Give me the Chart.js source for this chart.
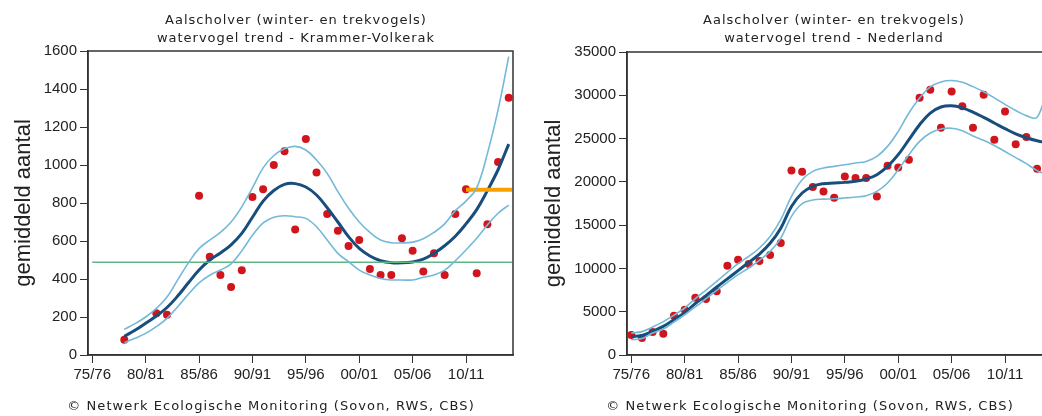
<!DOCTYPE html>
<html>
<head>
<meta charset="utf-8">
<script src="https://cdn.jsdelivr.net/npm/chart.js@4.4.1/dist/chart.umd.min.js"></script>
<style>
  html, body { margin: 0; padding: 0; background: #fff; }
  body { width: 1042px; height: 416px; overflow: hidden; position: relative; }
  canvas { position: absolute; top: 0; }
  .title, .foot {
    position: absolute; white-space: nowrap; color: #222;
    font-family: "DejaVu Sans", sans-serif; font-size: 13px; line-height: 18px;
    text-align: center; transform: translateX(-50%);
  }
  .title { top: 11px; letter-spacing: 1px; }
  .foot { top: 397px; letter-spacing: 1.1px; }
</style>
</head>
<body>
<canvas id="chartKV" width="540" height="416" style="left:0px"></canvas>
<canvas id="chartNL" width="540" height="416" style="left:540px"></canvas>
<div class="title" style="left:296px">Aalscholver (winter- en trekvogels)<br>watervogel trend - Krammer-Volkerak</div>
<div class="title" style="left:834px">Aalscholver (winter- en trekvogels)<br>watervogel trend - Nederland</div>
<div class="foot" style="left:271px">© Netwerk Ecologische Monitoring (Sovon, RWS, CBS)</div>
<div class="foot" style="left:810px">© Netwerk Ecologische Monitoring (Sovon, RWS, CBS)</div>
<script>
// x-as: seizoenen
var tickYears  = [1975, 1980, 1985, 1990, 1995, 2000, 2005, 2010];
var tickLabels = ['75/76', '80/81', '85/86', '90/91', '95/96', '00/01', '05/06', '10/11'];

// Krammer-Volkerak: tellingen
var countYearsKV = [1978, 1981, 1982, 1985, 1986, 1987, 1988, 1989, 1990, 1991, 1992, 1993, 1994, 1995, 1996,
                    1997, 1998, 1999, 2000, 2001, 2002, 2003, 2004, 2005, 2006, 2007, 2008, 2009, 2010, 2011,
                    2012, 2013, 2014];
var countsKV     = [80, 220, 212, 838, 517, 421, 358, 446, 832, 872, 1000, 1072, 661, 1137, 960,
                    742, 654, 574, 605, 453, 421, 421, 614, 549, 439, 535, 421, 742, 872, 430,
                    688, 1016, 1354];
// Krammer-Volkerak: trend + betrouwbaarheidsband
var trendYearsKV = [1978, 1979, 1980, 1981, 1982, 1983, 1984, 1985, 1986, 1987, 1988, 1989, 1990, 1991, 1992,
                    1993, 1994, 1995, 1996, 1997, 1998, 1999, 2000, 2001, 2002, 2003, 2004, 2005, 2006, 2007,
                    2008, 2009, 2010, 2011, 2012, 2013, 2014];
var trendKV      = [98, 130, 167, 205, 250, 310, 380, 447, 500, 537, 580, 640, 725, 810, 866,
                    898, 902, 884, 842, 775, 700, 623, 561, 521, 496, 486, 485, 490, 505, 535,
                    575, 625, 690, 765, 865, 975, 1110];
var upperKV      = [135, 165, 200, 245, 305, 395, 485, 560, 605, 645, 700, 780, 880, 985, 1050,
                    1085, 1098, 1079, 1026, 956, 860, 772, 700, 645, 605, 591, 590, 594, 612, 645,
                    690, 760, 810, 880, 1060, 1290, 1570];
var lowerKV      = [65, 88, 114, 149, 193, 254, 320, 380, 420, 447, 480, 548, 630, 695, 725,
                    733, 728, 719, 675, 605, 535, 491, 447, 421, 403, 395, 395, 395, 409, 421,
                    447, 496, 553, 614, 684, 746, 789];
// Krammer-Volkerak: referentielijnen
var refYearsKV    = [1975, 2014.3];
var refValueKV    = 488;
var targetYearsKV = [2010, 2014.3];
var targetValueKV = 870;

// Nederland: tellingen
var countYearsNL = [1975, 1976, 1977, 1978, 1979, 1980, 1981, 1982, 1983, 1984, 1985, 1986, 1987, 1988, 1989,
                    1990, 1991, 1992, 1993, 1994, 1995, 1996, 1997, 1998, 1999, 2000, 2001, 2002, 2003, 2004,
                    2005, 2006, 2007, 2008, 2009, 2010, 2011, 2012, 2013];
var countsNL     = [2300, 1960, 2650, 2460, 4540, 5230, 6620, 6470, 7350, 10320, 11010, 10510, 10860, 11550, 12940,
                    21320, 21170, 19400, 18900, 18170, 20630, 20440, 20440, 18320, 21870, 21670, 22560, 29720, 30650, 26260,
                    30450, 28720, 26260, 30070, 24870, 28140, 24330, 25180, 21520];
// Nederland: trend + betrouwbaarheidsband
var trendYearsNL = [1975, 1976, 1977, 1978, 1979, 1980, 1981, 1982, 1983, 1984, 1985, 1986, 1987, 1988, 1989,
                    1990, 1991, 1992, 1993, 1994, 1995, 1996, 1997, 1998, 1999, 2000, 2001, 2002, 2003, 2004,
                    2005, 2006, 2007, 2008, 2009, 2010, 2011, 2012, 2013, 2014];
var trendNL      = [2150, 2250, 2750, 3300, 4100, 4900, 5950, 6850, 7850, 8800, 9750, 10700, 11650, 12900, 14650,
                    17150, 18710, 19480, 19790, 19870, 19940, 20060, 20330, 20830, 21790, 23140, 24870, 26600, 27950, 28650,
                    28800, 28550, 28050, 27450, 26800, 26150, 25550, 25100, 24750, 24500];
var upperNL      = [2540, 2700, 3230, 3850, 4600, 5430, 6500, 7500, 8500, 9550, 10550, 11390, 12360, 13700, 15630,
                    18320, 20250, 21210, 21600, 21790, 21980, 22180, 22360, 22940, 24100, 25830, 27950, 29690, 30960, 31540,
                    31700, 31500, 31000, 30400, 29700, 28950, 28250, 27650, 27450, 31000];
var lowerNL      = [1770, 1900, 2540, 3000, 3800, 4650, 5550, 6500, 7460, 8400, 9280, 10050, 10930, 11970, 13510,
                    16010, 17480, 17900, 18000, 18050, 18140, 18250, 18400, 18900, 19870, 21400, 23140, 24670, 25640, 26100,
                    26200, 25900, 25300, 24800, 24200, 23500, 22800, 22100, 21300, 20800];

var colPoint = 'rgb(208,22,28)';
var colTrend = 'rgb(24,78,124)';
var colBand  = 'rgb(116,185,216)';
var colRef   = 'rgb(96,182,130)';
var colTarget = 'rgb(247,160,0)';
var tickFont = { family: 'Liberation Sans', size: 15 };

function xy(xs, ys) {
    return xs.map(function (x, i) { return { x: x, y: ys[i] }; });
}
function flat(xs, v) {
    return xs.map(function (x) { return { x: x, y: v }; });
}

// kader rond het plotgebied
var boxPlugin = {
    id: 'box',
    beforeDatasetsDraw: function (chart) {
        var a = chart.chartArea, ctx = chart.ctx;
        ctx.save();
        ctx.strokeStyle = '#333';
        ctx.lineWidth = 1.5;
        ctx.strokeRect(a.left, a.top, a.right - a.left, a.bottom - a.top);
        ctx.restore();
    }
};

function lineSet(data, color, width, tension) {
    return { type: 'line', data: data, borderColor: color, borderWidth: width,
             pointRadius: 0, fill: false, tension: tension };
}

function makeChart(id, sets, yMax, yStep, padTop, padRight, yWidth, titlePad) {
    var ctx = document.getElementById(id).getContext('2d');
    return new Chart(ctx, {
        type: 'line',
        data: { datasets: sets },
        options: {
            responsive: false,
            animation: false,
            layout: { padding: { top: padTop, right: padRight, left: 0, bottom: 0 } },
            plugins: { legend: { display: false }, tooltip: { enabled: false } },
            scales: {
                x: {
                    type: 'linear', min: 1974.6, max: 2014.4,
                    afterBuildTicks: function (s) { s.ticks = tickYears.map(function (v) { return { value: v }; }); },
                    afterFit: function (s) { s.height = 61; },
                    grid: { drawOnChartArea: false, tickLength: 8, color: '#333', lineWidth: 1 },
                    border: { color: '#333', width: 1.5 },
                    ticks: {
                        font: tickFont, color: '#222', padding: 3, maxRotation: 0, autoSkip: false,
                        callback: function (v) { var i = tickYears.indexOf(v); return i < 0 ? '' : tickLabels[i]; }
                    }
                },
                y: {
                    min: 0, max: yMax,
                    afterFit: function (s) { s.width = yWidth; },
                    grid: { drawOnChartArea: false, tickLength: 8, color: '#333', lineWidth: 1 },
                    border: { color: '#333', width: 1.5 },
                    ticks: { stepSize: yStep, font: tickFont, color: '#222', padding: 3,
                             callback: function (v) { return String(v); } },
                    title: { display: true, text: 'gemiddeld aantal', color: '#222',
                             font: { family: 'Liberation Sans', size: 22 }, padding: { top: titlePad, bottom: 0 } }
                }
            }
        },
        plugins: [boxPlugin]
    });
}

var setsKV = [
    lineSet(xy(trendYearsKV, upperKV), colBand, 1.6, 0.4),
    lineSet(xy(trendYearsKV, lowerKV), colBand, 1.6, 0.4),
    lineSet(flat(refYearsKV, refValueKV), colRef, 1.6, 0),
    lineSet(flat(targetYearsKV, targetValueKV), colTarget, 4, 0),
    lineSet(xy(trendYearsKV, trendKV), colTrend, 3, 0.4),
    { type: 'scatter', data: xy(countYearsKV, countsKV), pointRadius: 4, pointBackgroundColor: colPoint,
      pointBorderWidth: 0, showLine: false }
];
var setsNL = [
    lineSet(xy(trendYearsNL, upperNL), colBand, 1.6, 0.4),
    lineSet(xy(trendYearsNL, lowerNL), colBand, 1.6, 0.4),
    lineSet(xy(trendYearsNL, trendNL), colTrend, 3, 0.4),
    { type: 'scatter', data: xy(countYearsNL, countsNL), pointRadius: 4, pointBackgroundColor: colPoint,
      pointBorderWidth: 0, showLine: false }
];

makeChart('chartKV', setsKV, 1600, 200, 51, 27, 88, 11);
makeChart('chartNL', setsNL, 35000, 5000, 52, 28, 87, 1);
</script>
</body>
</html>
